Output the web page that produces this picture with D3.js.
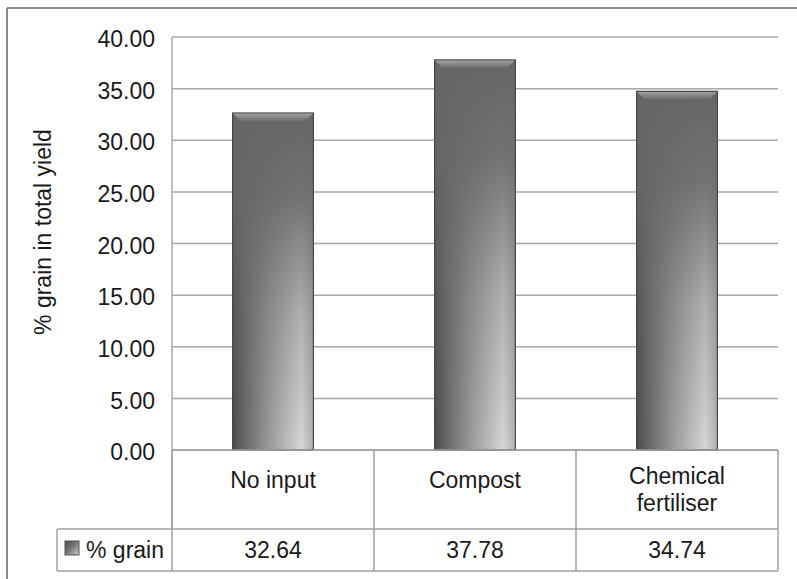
<!DOCTYPE html>
<html><head><meta charset="utf-8">
<script src="https://cdn.jsdelivr.net/npm/d3@7"></script>
<style>body{margin:0;background:#fff}svg{display:block}text{font-family:"Liberation Sans",Arial,sans-serif;fill:#1a1a1a}</style>
</head><body>
<script>
const categories = ["No input", "Compost", "Chemical fertiliser"];
const categoryLines = [["No input"], ["Compost"], ["Chemical", "fertiliser"]];
const seriesName = "% grain";
const values = [32.64, 37.78, 34.74];
const valueLabels = ["32.64", "37.78", "34.74"];
const yTicks = [0, 5, 10, 15, 20, 25, 30, 35, 40];
const yLabel = "% grain in total yield";

const W = 797, H = 579;
const plot = {left:172, right:778, top:37, bottom:450};
const rowCat = {top:450, bottom:529};
const rowVal = {top:529, bottom:571};
const legendLeft = 57;

const svg = d3.select("body").append("svg").attr("width", W).attr("height", H);
const defs = svg.append("defs");
const gh = defs.append("linearGradient").attr("id","gh").attr("x1",0).attr("x2",1).attr("y1",0).attr("y2",0);
[[0,"#4a4a4a"],[0.12,"#626262"],[0.45,"#9a9a9a"],[0.85,"#d6d6d6"],[1,"#b0b0b0"]].forEach(s=>gh.append("stop").attr("offset",s[0]).attr("stop-color",s[1]));
const gv = defs.append("linearGradient").attr("id","gv").attr("x1",0).attr("x2",0).attr("y1",0).attr("y2",1);
[[0,"#666",1],[0.25,"#686868",0.9],[0.6,"#6a6a6a",0.35],[1,"#6a6a6a",0]].forEach(s=>gv.append("stop").attr("offset",s[0]).attr("stop-color",s[1]).attr("stop-opacity",s[2]));
const gb = defs.append("linearGradient").attr("id","gb").attr("x1",0).attr("x2",0).attr("y1",0).attr("y2",1);
[[0,"#a0a0a0"],[1,"#6c6c6c"]].forEach(s=>gb.append("stop").attr("offset",s[0]).attr("stop-color",s[1]));

// outer frame
svg.append("line").attr("x1",7).attr("x2",W).attr("y1",8).attr("y2",8).attr("stroke","#8a8a8a").attr("stroke-width",2);
svg.append("line").attr("x1",7).attr("x2",7).attr("y1",8).attr("y2",H).attr("stroke","#8a8a8a").attr("stroke-width",2);

const x = d3.scaleBand().domain(categories).range([plot.left, plot.right]).paddingInner(0.6).paddingOuter(0.3);
const y = d3.scaleLinear().domain([0, 40]).range([plot.bottom, plot.top]);

// gridlines
svg.append("g").selectAll("line").data(yTicks).join("line")
  .attr("x1", plot.left).attr("x2", plot.right)
  .attr("y1", d=>y(d)).attr("y2", d=>y(d))
  .attr("stroke","#a8a8a8").attr("stroke-width",1.5);

// y axis (labels only)
const yAxis = d3.axisLeft(y).tickValues(yTicks).tickFormat(d3.format(".2f")).tickSize(0).tickPadding(0);
const ga = svg.append("g").attr("transform", `translate(${155},0)`).call(yAxis);
ga.select(".domain").remove();
ga.selectAll("text").attr("font-size",23).attr("dy","0.42em").attr("fill","#1a1a1a").style("font-family","'Liberation Sans',Arial,sans-serif");

svg.append("text").attr("transform",`translate(51,${232}) rotate(-90)`).attr("text-anchor","middle")
  .attr("font-size",23).text(yLabel);

// plot left border
svg.append("line").attr("x1",plot.left).attr("x2",plot.left).attr("y1",plot.top).attr("y2",rowCat.bottom).attr("stroke","#a8a8a8").attr("stroke-width",1.5);

// bars
const bars = svg.append("g").selectAll("g").data(categories).join("g");
bars.append("rect").attr("x",d=>x(d)).attr("width",x.bandwidth())
  .attr("y",(d,i)=>y(values[i])).attr("height",(d,i)=>y(0)-y(values[i])).attr("fill","url(#gh)");
bars.append("rect").attr("x",d=>x(d)).attr("width",x.bandwidth())
  .attr("y",(d,i)=>y(values[i])).attr("height",(d,i)=>y(0)-y(values[i])).attr("fill","url(#gv)")
  .attr("stroke","#474747").attr("stroke-width",1.2);
bars.append("polygon").attr("points",(d,i)=>{
  const x0=x(d), x1=x(d)+x.bandwidth(), t=y(values[i]), b=8;
  return [[x0+0.6,t+0.6],[x1-0.6,t+0.6],[x1-b,t+b],[x0+b,t+b]].map(p=>p.join(",")).join(" ");
}).attr("fill","url(#gb)");

// table
const tcol = "#a0a0a0";
const tg = svg.append("g").attr("stroke",tcol).attr("stroke-width",1.5);
tg.append("line").attr("x1",plot.left).attr("x2",plot.right).attr("y1",rowCat.top).attr("y2",rowCat.top);
tg.append("line").attr("x1",legendLeft).attr("x2",plot.right).attr("y1",rowVal.top).attr("y2",rowVal.top);
tg.append("line").attr("x1",legendLeft).attr("x2",plot.right).attr("y1",rowVal.bottom).attr("y2",rowVal.bottom);
tg.append("line").attr("x1",legendLeft).attr("x2",legendLeft).attr("y1",rowVal.top).attr("y2",rowVal.bottom);
const bounds = [plot.left].concat(categories.map(c=>x(c)+x.bandwidth()/2+x.step()/2));
tg.selectAll("line.v").data(bounds).join("line").attr("class","v")
  .attr("x1",d=>d).attr("x2",d=>d).attr("y1",rowCat.top).attr("y2",rowVal.bottom);

// category labels
const cl = svg.append("g").selectAll("text").data(categories).join("text")
  .attr("text-anchor","middle").attr("font-size",23)
  .attr("x",d=>x(d)+x.bandwidth()/2);
cl.each(function(d,i){
  const lines = categoryLines[i];
  const lh = 27;
  const cy = lines.length===1 ? 480 : 489;
  const startY = cy - (lines.length-1)*lh/2;
  d3.select(this).selectAll("tspan").data(lines).join("tspan")
    .attr("x",x(d)+x.bandwidth()/2).attr("y",(l,j)=>startY + j*lh).attr("dy","0.36em").text(l=>l);
});

// values row
svg.append("g").selectAll("text").data(categories).join("text")
  .attr("text-anchor","middle").attr("font-size",23)
  .attr("x",d=>x(d)+x.bandwidth()/2).attr("y",(rowVal.top+rowVal.bottom)/2).attr("dy","0.36em")
  .text((d,i)=>valueLabels[i]);

// legend key
const kg = defs.append("linearGradient").attr("id","kg").attr("x1",0).attr("x2",1).attr("y1",0).attr("y2",1);
[[0,"#4a4a4a"],[0.5,"#7a7a7a"],[1,"#d0d0d0"]].forEach(s=>kg.append("stop").attr("offset",s[0]).attr("stop-color",s[1]));
svg.append("rect").attr("x",65).attr("y",541).attr("width",14).attr("height",14).attr("fill","url(#kg)").attr("stroke","#555").attr("stroke-width",1);
svg.append("text").attr("x",86).attr("y",(rowVal.top+rowVal.bottom)/2).attr("dy","0.36em").attr("font-size",23).text(seriesName);
</script>
</body></html>
